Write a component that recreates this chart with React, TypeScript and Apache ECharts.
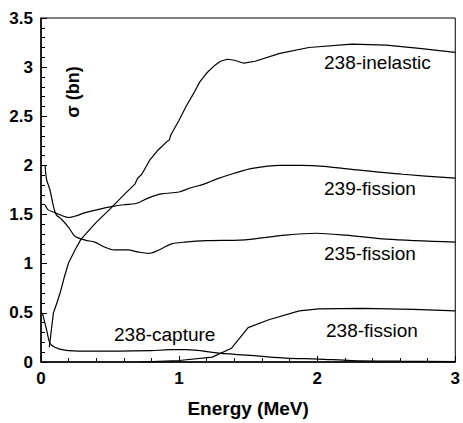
import React, { useEffect, useRef } from "react";
import * as echarts from "echarts";

const xTicks = [0, 1, 2, 3];
const yMax = 3.5;

const inelastic238 = [
  [0.06, 0.15], [0.09, 0.5], [0.11, 0.58], [0.14, 0.71], [0.17, 0.87], [0.2, 1.01],
  [0.25, 1.15], [0.29, 1.25], [0.4, 1.42], [0.51, 1.57], [0.6, 1.7], [0.68, 1.81],
  [0.7, 1.87], [0.73, 1.91], [0.79, 2.06], [0.85, 2.16], [0.91, 2.24], [0.93, 2.26],
  [0.94, 2.31], [1.0, 2.46], [1.05, 2.6], [1.1, 2.72], [1.15, 2.85], [1.2, 2.94],
  [1.26, 3.02], [1.3, 3.06], [1.35, 3.08], [1.4, 3.07], [1.47, 3.04], [1.55, 3.06],
  [1.73, 3.14], [1.94, 3.2], [2.25, 3.235], [2.5, 3.225], [2.74, 3.19], [3.0, 3.15],
];

const fission239 = [
  [0.03, 1.6], [0.05, 1.55], [0.1, 1.52], [0.15, 1.49], [0.2, 1.47], [0.26, 1.49],
  [0.32, 1.52], [0.41, 1.55], [0.51, 1.58], [0.6, 1.6], [0.68, 1.61], [0.72, 1.63],
  [0.78, 1.67], [0.87, 1.71], [1.0, 1.73], [1.08, 1.77], [1.18, 1.81], [1.27, 1.86],
  [1.4, 1.92], [1.53, 1.97], [1.73, 2.0], [1.89, 2.0], [2.05, 1.99], [2.25, 1.96],
  [2.62, 1.91], [3.0, 1.87],
];

const fission235 = [
  [0.03, 2.0], [0.04, 1.86], [0.065, 1.75], [0.09, 1.585], [0.11, 1.5], [0.15, 1.45],
  [0.2, 1.37], [0.245, 1.28], [0.32, 1.24], [0.39, 1.22], [0.46, 1.17], [0.53, 1.14],
  [0.63, 1.14], [0.7, 1.12], [0.78, 1.105], [0.87, 1.15], [0.94, 1.2], [1.04, 1.22],
  [1.2, 1.235], [1.44, 1.24], [1.53, 1.25], [1.77, 1.29], [1.99, 1.31], [2.21, 1.29],
  [2.5, 1.25], [3.0, 1.22],
];

const capture238 = [
  [0.01, 0.5], [0.04, 0.33], [0.065, 0.19], [0.1, 0.15], [0.17, 0.12], [0.32, 0.11],
  [0.56, 0.11], [0.8, 0.115], [0.93, 0.125], [1.05, 0.125], [1.29, 0.09], [1.58, 0.06],
  [1.77, 0.04], [2.01, 0.03], [2.25, 0.015], [2.6, 0.008], [3.0, 0.003],
];

const fission238 = [
  [0.71, 0.0], [1.0, 0.015], [1.24, 0.05], [1.38, 0.14], [1.5, 0.35], [1.65, 0.43],
  [1.87, 0.52], [2.01, 0.54], [2.33, 0.545], [2.7, 0.535], [3.0, 0.52],
];

const labels = ["238-inelastic", "239-fission", "235-fission", "238-fission", "238-capture"];
const yName = "σ (bn)";
const xName = "Energy (MeV)";

const FONT = "'Liberation Sans', Arial, Helvetica, sans-serif";

export default function App() {
  const ref = useRef<HTMLDivElement>(null);
  useEffect(() => {
    if (!ref.current) return;
    const chart = echarts.init(ref.current, undefined, { renderer: "svg" });
    const line = (data: number[][], smooth: number | boolean) => ({
      type: "line",
      data,
      smooth,
      showSymbol: false,
      symbol: "none",
      lineStyle: { color: "#000", width: 1.2 },
      silent: true,
    });
    const txt = (text: string, x: number, y: number) => ({
      type: "text",
      x,
      y,
      style: { text, font: `19px ${FONT}`, fill: "#000", textVerticalAlign: "middle" },
    });
    chart.setOption({
      animation: false,
      backgroundColor: "#fff",
      grid: {
        left: 41,
        right: 7,
        top: 18,
        bottom: 60,
        show: true,
        borderColor: "#000",
        borderWidth: 1,
      },
      xAxis: {
        type: "value",
        min: xTicks[0],
        max: xTicks[xTicks.length - 1],
        interval: 1,
        name: xName,
        nameLocation: "middle",
        nameGap: 37,
        nameTextStyle: { fontFamily: FONT, fontWeight: "bold", fontSize: 19, color: "#000" },
        axisLine: { lineStyle: { color: "#000", width: 1.5 } },
        axisTick: { inside: true, length: 6, lineStyle: { color: "#000" } },
        minorTick: { show: true, splitNumber: 5, length: 4, lineStyle: { color: "#000" } },
        splitLine: { show: false },
        axisLabel: { fontFamily: FONT, fontWeight: "bold", fontSize: 17, color: "#000", margin: 8 },
      },
      yAxis: {
        type: "value",
        min: 0,
        max: yMax,
        interval: 0.5,
        axisLine: { show: true, lineStyle: { color: "#000", width: 1.5 } },
        axisTick: { show: true, inside: true, length: 6, lineStyle: { color: "#000" } },
        minorTick: { show: true, splitNumber: 5, length: 4, lineStyle: { color: "#000" } },
        splitLine: { show: false },
        axisLabel: { fontFamily: FONT, fontWeight: "bold", fontSize: 17, color: "#000", margin: 8 },
      },
      graphic: [
        txt(labels[0], 324, 62),
        txt(labels[1], 324, 188),
        txt(labels[2], 324, 253),
        txt(labels[3], 326, 330),
        txt(labels[4], 114, 334),
        {
          type: "text",
          x: 73,
          y: 92,
          rotation: Math.PI / 2,
          style: {
            text: yName,
            font: `bold 18px ${FONT}`,
            fill: "#000",
            textAlign: "center",
            textVerticalAlign: "middle",
          },
        },
      ],
      series: [
        line(inelastic238, false),
        line(fission239, 0.3),
        line(fission235, 0.3),
        line(capture238, 0.3),
        line(fission238, false),
      ],
    });
    return () => chart.dispose();
  }, []);
  return (
    <div
      ref={ref}
      style={{ position: "fixed", left: 0, top: 0, width: 463, height: 423, background: "#fff" }}
    />
  );
}
